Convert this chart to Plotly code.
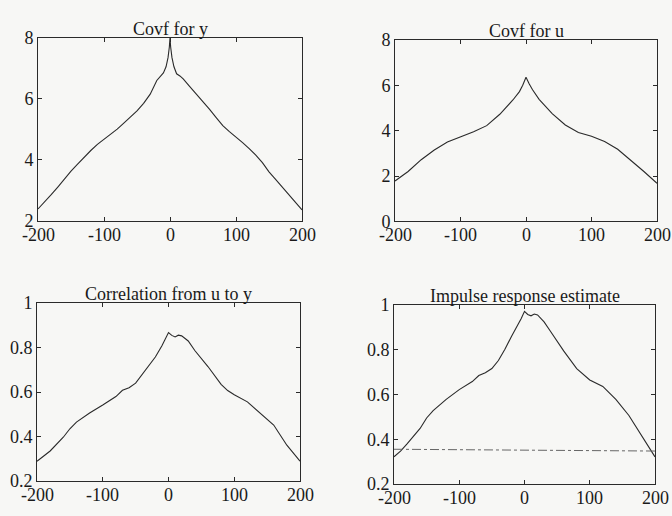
import plotly.graph_objects as go

# ---- data ----
lag_y = [-200, -190, -180, -170, -160, -150, -140, -130, -120, -110, -100, -90, -80, -70, -60, -50,
         -40, -30, -20, -15, -10, -6, -3, -1, 0, 1, 3, 6, 10, 15, 20, 30, 40, 50, 60, 70, 80, 90,
         100, 110, 120, 130, 140, 150, 160, 170, 180, 190, 200]
covf_y = [2.38, 2.6, 2.85, 3.1, 3.38, 3.62, 3.85, 4.08, 4.3, 4.5, 4.66, 4.82, 5.0, 5.2, 5.4, 5.6,
          5.85, 6.15, 6.6, 6.72, 6.85, 7.05, 7.35, 7.7, 8.0, 7.7, 7.35, 7.05, 6.82, 6.75, 6.65, 6.4,
          6.15, 5.92, 5.65, 5.38, 5.12, 4.92, 4.75, 4.56, 4.36, 4.15, 3.9, 3.6, 3.35, 3.1, 2.85, 2.6, 2.35]

lag_u = [-200, -180, -160, -140, -120, -100, -80, -60, -40, -20, -10, -5, 0, 5, 10, 20, 40, 60,
         80, 100, 120, 140, 160, 180, 200]
covf_u = [1.78, 2.2, 2.72, 3.15, 3.5, 3.72, 3.95, 4.22, 4.72, 5.35, 5.72, 6.0, 6.35, 6.05, 5.8,
          5.38, 4.75, 4.25, 3.92, 3.75, 3.52, 3.18, 2.7, 2.2, 1.68]

lag_c = [-200, -180, -160, -150, -140, -120, -100, -80, -70, -60, -50, -40, -30, -20, -10, 0, 5,
         10, 15, 20, 30, 40, 60, 80, 90, 100, 120, 140, 160, 180, 200]
corr_uy = [0.289, 0.335, 0.397, 0.435, 0.465, 0.506, 0.542, 0.58, 0.608, 0.62, 0.64, 0.679, 0.715,
           0.758, 0.808, 0.868, 0.855, 0.848, 0.856, 0.853, 0.83, 0.787, 0.715, 0.635, 0.607, 0.588,
           0.556, 0.506, 0.452, 0.361, 0.289]

lag_i = [-200, -190, -180, -160, -150, -140, -120, -100, -80, -70, -60, -50, -40, -30, -20, -10,
         -5, 0, 5, 10, 15, 20, 30, 40, 60, 80, 100, 120, 140, 160, 180, 200]
impulse = [0.321, 0.347, 0.379, 0.448, 0.495, 0.528, 0.578, 0.622, 0.658, 0.685, 0.697, 0.716,
           0.752, 0.802, 0.86, 0.91, 0.94, 0.972, 0.958, 0.952, 0.96, 0.956, 0.925, 0.882, 0.795,
           0.716, 0.665, 0.636, 0.578, 0.506, 0.412, 0.321]

conf_x = [-200, 200]
conf_y = [0.355, 0.347]

x_ticks = [-200, -100, 0, 100, 200]
x_labels = ["-200", "-100", "0", "100", "200"]
y_ticks_1 = [2, 4, 6, 8]
y_ticks_2 = [0, 2, 4, 6, 8]
y_ticks_3 = [0.2, 0.4, 0.6, 0.8, 1]
y_labels_3 = ["0.2", "0.4", "0.6", "0.8", "1"]
titles = ["Covf for y", "Covf for u", "Correlation from u to y", "Impulse response estimate"]

# ---- figure ----
FONT = "'Liberation Serif', 'Times New Roman', serif"
LINE = "#2a2a2a"
TXT = "#1a1a1a"
BG = "#f7f7f5"
W, H = 672, 516

frames = [  # left, right, top, bottom in px
    (38, 302, 29, 219),
    (395, 657, 31, 220),
    (37, 300, 305, 490),
    (394, 655, 307, 493),
]

fig = go.Figure()
series = [(lag_y, covf_y), (lag_u, covf_u), (lag_c, corr_uy), (lag_i, impulse)]
for i, (xs, ys) in enumerate(series):
    n = "" if i == 0 else str(i + 1)
    fig.add_trace(go.Scatter(x=xs, y=ys, mode="lines", xaxis="x" + n, yaxis="y" + n,
                             line=dict(color=LINE, width=1.1), showlegend=False))
fig.add_trace(go.Scatter(x=conf_x, y=conf_y, mode="lines", xaxis="x4", yaxis="y4",
                         line=dict(color="#666666", width=1, dash="dashdot"), showlegend=False))

yranges = [[2, 8], [0, 8], [0.2, 1], [0.2, 1]]
yticks = [(y_ticks_1, [str(v) for v in y_ticks_1]), (y_ticks_2, [str(v) for v in y_ticks_2]),
          (y_ticks_3, y_labels_3), (y_ticks_3, y_labels_3)]

annotations = []
for i, (l, r, t, b) in enumerate(frames):
    n = "" if i == 0 else str(i + 1)
    common = dict(showline=True, linecolor=LINE, linewidth=1, mirror="ticks", ticks="inside",
                  ticklen=4, tickcolor=LINE, tickwidth=1, showgrid=False, zeroline=False,
                  tickfont=dict(family=FONT, size=18, color=TXT))
    fig.update_layout(**{
        "xaxis" + n: dict(domain=[l / W, r / W], range=[-200, 200], anchor="y" + n,
                          tickvals=x_ticks, showticklabels=False, **common),
        "yaxis" + n: dict(domain=[1 - b / H, 1 - t / H], range=yranges[i], anchor="x" + n,
                          tickvals=yticks[i][0], ticktext=yticks[i][1], ticklabelstandoff=0, **common),
    })
    annotations.append(dict(text=titles[i], x=(l + r) / 2 / W, y=1 - t / H, xref="paper", yref="paper",
                            xanchor="center", yanchor="bottom", showarrow=False, yshift=-3,
                            font=dict(family=FONT, size=18, color=TXT)))
    for xv, lab in zip(x_ticks, x_labels):
        annotations.append(dict(text=lab, x=xv, y=1 - b / H, xref="x" + n, yref="paper",
                                xanchor="center", yanchor="top", showarrow=False, yshift=-2,
                                font=dict(family=FONT, size=18, color=TXT)))

fig.update_layout(width=W, height=H, margin=dict(l=0, r=0, t=0, b=0),
                  paper_bgcolor=BG, plot_bgcolor=BG, annotations=annotations)
fig.write_html("out.html")
